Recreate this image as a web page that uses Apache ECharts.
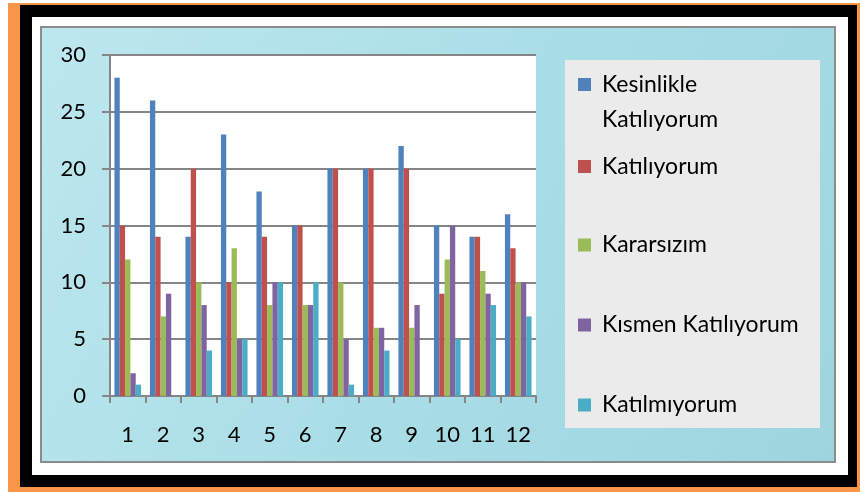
<!DOCTYPE html>
<html>
<head>
<meta charset="utf-8">
<script src="https://cdn.jsdelivr.net/npm/echarts@6/dist/echarts.min.js"></script>
<style>
html, body { margin: 0; padding: 0; background: #fff; }
#chart { width: 860px; height: 492px; }
</style>
</head>
<body>
<div id="chart"></div>
<script>
// items 1..12 on the x axis
const categories = ['1', '2', '3', '4', '5', '6', '7', '8', '9', '10', '11', '12'];
const seriesNames = ['Kesinlikle Katılıyorum', 'Katılıyorum', 'Kararsızım', 'Kısmen Katılıyorum', 'Katılmıyorum'];

const kesinlikleKatiliyorum = [28, 26, 14, 23, 18, 15, 20, 20, 22, 15, 14, 16];
const katiliyorum = [15, 14, 20, 10, 14, 15, 20, 20, 20, 9, 14, 13];
const kararsizim = [12, 7, 10, 13, 8, 8, 10, 6, 6, 12, 11, 10];
const kismenKatiliyorum = [2, 9, 8, 5, 10, 8, 5, 6, 8, 15, 9, 10];
const katilmiyorum = [1, 0, 4, 5, 10, 10, 1, 4, 0, 5, 8, 7];

const seriesValues = [kesinlikleKatiliyorum, katiliyorum, kararsizim, kismenKatiliyorum, katilmiyorum];
const colors = ['#4F81BD', '#C0504D', '#9BBB59', '#8064A2', '#4BACC6'];

const FONT = 'Lato, "Open Sans", sans-serif';
const GREY = '#868686';

const chart = echarts.init(document.getElementById('chart'));

// legend: one component per entry so each sits where the original does
const legendIconY = [84.5, 166.5, 245, 325, 405];
const legends = seriesNames.map((name, i) => {
  if (i === 0) {
    // two-line entry, square aligned with the first line
    return {
      data: [name],
      left: 578,
      top: legendIconY[i] - 6.5 - 11,
      padding: 0,
      selectedMode: false,
      itemWidth: 13,
      itemHeight: 48,
      icon: 'path://M0,0h13v13h-13z M0,48',
      formatter: (n) => n.replace(' ', '\n'),
      textStyle: { fontFamily: FONT, fontSize: 23, color: '#000', lineHeight: 35, padding: [0, 0, 0, 6] }
    };
  }
  return {
    data: [name],
    left: 578,
    top: legendIconY[i] - 12,
    padding: 0,
    selectedMode: false,
    itemWidth: 13,
    itemHeight: 13,
    icon: 'rect',
    textStyle: { fontFamily: FONT, fontSize: 23, color: '#000', lineHeight: 24, padding: [0, 0, 0, 6] }
  };
});

chart.setOption({
  animation: false,
  color: colors,
  graphic: [
    { type: 'rect', z: -20, shape: { x: 8, y: 3, width: 852, height: 489 }, style: { fill: '#F79646' } },
    { type: 'rect', z: -19, shape: { x: 20, y: 5, width: 837, height: 482 }, style: { fill: '#000' } },
    { type: 'rect', z: -18, shape: { x: 32, y: 17, width: 816, height: 458 }, style: { fill: '#fff' } },
    {
      type: 'rect', z: -17,
      shape: { x: 41, y: 27, width: 794, height: 435 },
      style: {
        fill: {
          type: 'linear', x: 0, y: 0, x2: 1, y2: 1,
          colorStops: [
            { offset: 0, color: '#bde7ee' },
            { offset: 0.5, color: '#aadee7' },
            { offset: 1, color: '#9dd5df' }
          ]
        },
        stroke: '#8c8c8c', lineWidth: 2
      }
    },
    { type: 'rect', z: -16, shape: { x: 565, y: 60, width: 255, height: 368 }, style: { fill: '#ebebeb' } }
  ],
  legend: legends,
  grid: {
    left: 110, top: 55, right: 324, bottom: 96,
    show: true, backgroundColor: '#fff', borderWidth: 0
  },
  xAxis: {
    type: 'category',
    data: categories,
    axisLine: { lineStyle: { color: GREY, width: 2 } },
    axisTick: { show: true, length: 7, lineStyle: { color: GREY, width: 2 } },
    axisLabel: { color: '#000', fontFamily: FONT, fontSize: 22, margin: 28 }
  },
  yAxis: {
    type: 'value',
    min: 0, max: 30, interval: 5,
    axisLine: { show: true, lineStyle: { color: GREY, width: 2 } },
    axisTick: { show: true, length: 8, lineStyle: { color: GREY, width: 2 } },
    splitLine: { lineStyle: { color: GREY, width: 2 } },
    axisLabel: { color: '#000', fontFamily: FONT, fontSize: 22, margin: 24 }
  },
  series: seriesNames.map((name, i) => ({
    name: name,
    type: 'bar',
    data: seriesValues[i],
    barGap: '0%',
    barCategoryGap: '25%',
    itemStyle: { color: colors[i] }
  }))
});
</script>
</body>
</html>
